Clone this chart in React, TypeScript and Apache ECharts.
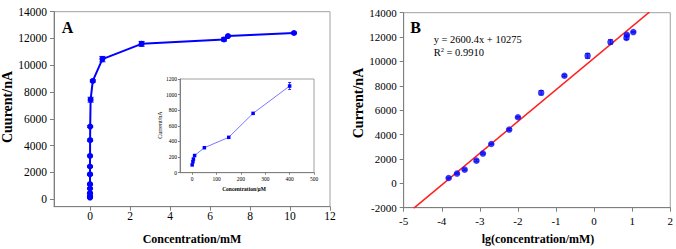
import { useEffect, useRef } from "react";
import * as echarts from "echarts";

// Panel A: concentration (mM) vs current (nA)
const concA = [0.00003, 0.00006, 0.0001, 0.00015, 0.00025, 0.0004, 0.0008, 0.0012, 0.002, 0.006, 0.01, 0.03, 0.14, 0.62, 2.58, 6.7, 6.9, 10.2];
const currentA = [120, 170, 220, 450, 800, 1120, 1860, 2440, 3230, 4410, 5420, 7430, 8830, 10460, 11600, 11930, 12180, 12410];
const errA = [40, 40, 40, 60, 50, 60, 80, 60, 50, 80, 60, 180, 80, 200, 180, 120, 60, 60];
const xTicksA = [0, 2, 4, 6, 8, 10, 12];
const yTicksA = [0, 2000, 4000, 6000, 8000, 10000, 12000, 14000];

// Inset: concentration (μM) vs current (nA)
const concInset = [0, 3, 5, 10, 50, 150, 250, 400];
const currentInset = [100, 140, 175, 220, 320, 453, 760, 1110];
const errInset = [0, 0, 0, 0, 0, 0, 0, 45];
const xTicksInset = [0, 100, 200, 300, 400, 500];

// Panel B: lg(concentration) vs current
const lgB = [-3.82, -3.6, -3.4, -3.09, -2.92, -2.7, -2.23, -2.0, -1.39, -0.78, -0.17, 0.43, 0.85, 0.86, 1.03];
const currentB = [440, 800, 1120, 1860, 2440, 3230, 4410, 5420, 7430, 8830, 10460, 11600, 11930, 12180, 12410];
const errB = [60, 50, 60, 80, 60, 50, 80, 60, 180, 80, 200, 180, 120, 60, 60];
// trendline endpoints (y = 2600.4x + 10275)
const fitX = [-4.74, 1.45];
const fitY = [-2051, 14046];

const SERIF = "'Liberation Serif', 'Times New Roman', serif";
const plain = (v: number) => String(v);

function errRender(color: string, cap: number, width: number) {
  return (_params: any, api: any) => {
    const x = api.value(0);
    const y = api.value(1);
    const e = api.value(2);
    if (!e) return { type: "group", children: [] };
    const hi = api.coord([x, y + e]);
    const lo = api.coord([x, y - e]);
    const style = { stroke: color, lineWidth: width };
    return {
      type: "group",
      children: [
        { type: "line", shape: { x1: hi[0], y1: hi[1], x2: lo[0], y2: lo[1] }, style },
        { type: "line", shape: { x1: hi[0] - cap, y1: hi[1], x2: hi[0] + cap, y2: hi[1] }, style },
        { type: "line", shape: { x1: lo[0] - cap, y1: lo[1], x2: lo[0] + cap, y2: lo[1] }, style },
      ],
    };
  };
}

const axisLine = { show: true, onZero: false, lineStyle: { color: "#7f7f7f", width: 1 } };

export default function App() {
  const ref = useRef<HTMLDivElement>(null);
  useEffect(() => {
    document.body.style.margin = "0";
    const chart = echarts.init(ref.current!, null, { renderer: "svg" });
    const dataA = concA.map((c, i) => [c, currentA[i]]);
    const errDataA = concA.map((c, i) => [c, currentA[i], errA[i]]);
    const dataInset = concInset.map((c, i) => [c, currentInset[i]]);
    const errDataInset = concInset.map((c, i) => [c, currentInset[i], errInset[i]]);
    const dataB = lgB.map((c, i) => [c, currentB[i]]);
    const errDataB = lgB.map((c, i) => [c, currentB[i], errB[i]]);
    const fitData = fitX.map((x, i) => [x, fitY[i]]);

    const option: any = {
      animation: false,
      backgroundColor: "#ffffff",
      grid: [
        { left: 54, top: 11.7, width: 276, height: 195, show: true, borderColor: "#a0a0a0", borderWidth: 1, backgroundColor: "transparent" },
        { left: 403.7, top: 12.7, width: 267.3, height: 195, show: true, borderColor: "#a0a0a0", borderWidth: 1, backgroundColor: "transparent" },
        { left: 180, top: 79, width: 134, height: 93.7, show: true, borderColor: "#a0a0a0", borderWidth: 1, backgroundColor: "#ffffff", z: 5 },
      ],
      xAxis: [
        {
          type: "value", gridIndex: 0, min: -1.8, max: 12, axisLine,
          axisTick: { show: true, length: 4, customValues: xTicksA, lineStyle: { color: "#7f7f7f" } },
          axisLabel: { customValues: xTicksA, formatter: plain, margin: 3, fontSize: 11.5, color: "#000", fontFamily: SERIF },
          splitLine: { show: false },
        },
        {
          type: "value", gridIndex: 1, min: -5, max: 2, interval: 1, axisLine,
          axisTick: { show: true, length: 4, lineStyle: { color: "#7f7f7f" } },
          axisLabel: { formatter: plain, margin: 8, fontSize: 11, color: "#000", fontFamily: SERIF },
          splitLine: { show: false },
        },
        {
          type: "value", gridIndex: 2, min: -50, max: 500, axisLine, z: 6,
          axisTick: { show: true, length: 2, customValues: xTicksInset, lineStyle: { color: "#7f7f7f" } },
          axisLabel: { customValues: xTicksInset, formatter: plain, margin: 3, fontSize: 5.5, color: "#000", fontFamily: SERIF },
          splitLine: { show: false },
        },
      ],
      yAxis: [
        {
          type: "value", gridIndex: 0, min: -560, max: 14000, axisLine,
          axisTick: { show: true, length: 4, customValues: yTicksA, lineStyle: { color: "#7f7f7f" } },
          axisLabel: { customValues: yTicksA, formatter: plain, margin: 7, fontSize: 11.5, color: "#000", fontFamily: SERIF },
          splitLine: { show: false },
        },
        {
          type: "value", gridIndex: 1, min: -2000, max: 14000, interval: 2000, axisLine,
          axisTick: { show: true, length: 4, lineStyle: { color: "#7f7f7f" } },
          axisLabel: { formatter: plain, margin: 7, fontSize: 11, color: "#000", fontFamily: SERIF },
          splitLine: { show: false },
        },
        {
          type: "value", gridIndex: 2, min: 0, max: 1200, interval: 200, axisLine, z: 6,
          axisTick: { show: true, length: 2, lineStyle: { color: "#7f7f7f" } },
          axisLabel: { formatter: plain, margin: 3, fontSize: 5.5, color: "#000", fontFamily: SERIF },
          splitLine: { show: false },
        },
      ],
      series: [
        {
          type: "line", xAxisIndex: 0, yAxisIndex: 0, data: dataA,
          symbol: "circle", symbolSize: 6, itemStyle: { color: "#0000ff" },
          lineStyle: { color: "#0000ff", width: 2 }, z: 3,
        },
        {
          type: "custom", xAxisIndex: 0, yAxisIndex: 0, data: errDataA,
          renderItem: errRender("#0000ff", 3, 1), z: 3,
        },
        {
          type: "line", xAxisIndex: 2, yAxisIndex: 2, data: dataInset,
          symbol: "rect", symbolSize: 3.5, itemStyle: { color: "#0000ff" },
          lineStyle: { color: "#7878ff", width: 1 }, z: 8,
        },
        {
          type: "custom", xAxisIndex: 2, yAxisIndex: 2, data: errDataInset,
          renderItem: errRender("#0000ff", 1.5, 0.8), z: 8,
        },
        {
          type: "line", xAxisIndex: 1, yAxisIndex: 1, data: fitData,
          symbol: "none", clip: true, lineStyle: { color: "#ff2020", width: 1.5 }, z: 2,
        },
        {
          type: "custom", xAxisIndex: 1, yAxisIndex: 1, data: errDataB,
          renderItem: errRender("#2020a0", 2.5, 1), z: 3,
        },
        {
          type: "scatter", xAxisIndex: 1, yAxisIndex: 1, data: dataB,
          symbol: "circle", symbolSize: 6.5, itemStyle: { color: "#0a0aff" }, z: 4,
        },
      ],
      graphic: [
        { type: "text", x: 7, y: 107, rotation: Math.PI / 2, style: { text: "Cuurent/nA", font: `bold 14px ${SERIF}`, fill: "#000", textAlign: "center", textVerticalAlign: "middle" } },
        { type: "text", x: 192, y: 239, style: { text: "Concentration/mM", font: `bold 12px ${SERIF}`, fill: "#000", textAlign: "center", textVerticalAlign: "middle" } },
        { type: "text", x: 67.5, y: 27, style: { text: "A", font: `bold 16px ${SERIF}`, fill: "#000", textAlign: "center", textVerticalAlign: "middle" } },
        { type: "text", x: 159.5, y: 125, rotation: Math.PI / 2, z: 10, style: { text: "Current/nA", font: `6px ${SERIF}`, fill: "#000", textAlign: "center", textVerticalAlign: "middle" } },
        { type: "text", x: 244, y: 189, z: 10, style: { text: "Concentration/μM", font: `bold 5.5px ${SERIF}`, fill: "#000", textAlign: "center", textVerticalAlign: "middle" } },
        { type: "text", x: 358, y: 103, rotation: Math.PI / 2, style: { text: "Current/nA", font: `bold 14px ${SERIF}`, fill: "#000", textAlign: "center", textVerticalAlign: "middle" } },
        { type: "text", x: 538, y: 239, style: { text: "lg(concentration/mM)", font: `bold 12px ${SERIF}`, fill: "#000", textAlign: "center", textVerticalAlign: "middle" } },
        { type: "text", x: 415.5, y: 27.5, style: { text: "B", font: `bold 16px ${SERIF}`, fill: "#000", textAlign: "center", textVerticalAlign: "middle" } },
        { type: "text", x: 433.7, y: 39.3, style: { text: "y = 2600.4x + 10275", font: `10.5px ${SERIF}`, fill: "#000", textAlign: "left", textVerticalAlign: "middle" } },
        {
          type: "text", x: 433.7, y: 52.3,
          style: {
            text: "R{sup|2} = 0.9910", font: `10.5px ${SERIF}`, fill: "#000", textAlign: "left", textVerticalAlign: "middle",
            rich: { sup: { fontSize: 6.5, fontFamily: SERIF, verticalAlign: "top", padding: [0, 0, 5, 0] } },
          },
        },
      ],
    };
    chart.setOption(option);
    return () => chart.dispose();
  }, []);
  return <div ref={ref} style={{ width: 676, height: 249 }} />;
}
